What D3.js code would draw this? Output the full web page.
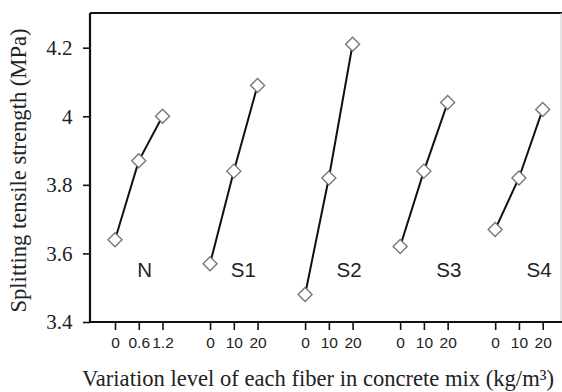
<!DOCTYPE html>
<html>
<head>
<meta charset="utf-8">
<script src="https://cdn.jsdelivr.net/npm/d3@7.9.0/dist/d3.min.js"></script>
<style>
  html, body { margin: 0; padding: 0; background: #fff; }
  svg { display: block; }
</style>
</head>
<body>
<svg id="chart" width="562" height="392"></svg>
<script>
const SERIF = '"Liberation Serif", "Times New Roman", serif';
const SANS = '"Liberation Sans", Arial, sans-serif';

// mixes and their fiber dosage levels
const groups = ["N", "S1", "S2", "S3", "S4"];
const levelLabels = [
  ["0", "0.6", "1.2"],
  ["0", "10", "20"],
  ["0", "10", "20"],
  ["0", "10", "20"],
  ["0", "10", "20"]
];
// splitting tensile strength (MPa) for each level
const strength = [
  [3.64, 3.87, 4.00],
  [3.57, 3.84, 4.09],
  [3.48, 3.82, 4.21],
  [3.62, 3.84, 4.04],
  [3.67, 3.82, 4.02]
];
const yTicks = [3.4, 3.6, 3.8, 4.0, 4.2];
// where each group name sits, in x-slot units
const groupLabelX = [1.25, 5.4, 9.85, 14.05, 17.85];
const groupLabelY = 3.53;

const svg = d3.select("#chart");
const plotLeft = 90, plotRight = 561, plotTop = 13, plotBottom = 322;

const slot = (g, j) => g * 4 + j;
const x = d3.scaleLinear().domain([0, 18]).range([115, 542.7]);
const y = d3.scaleLinear().domain([3.4, 4.3]).range([plotBottom, plotTop + 0.4]);

// frame: top border and faint right edge
svg.append("line")
  .attr("x1", plotLeft).attr("x2", 562).attr("y1", plotTop).attr("y2", plotTop)
  .attr("stroke", "#111").attr("stroke-width", 2);
svg.append("line")
  .attr("x1", plotRight).attr("x2", plotRight).attr("y1", plotTop).attr("y2", plotBottom)
  .attr("stroke", "#ccc").attr("stroke-width", 1);

// y axis
const yAxis = svg.append("g")
  .attr("transform", `translate(${plotLeft},0)`)
  .call(d3.axisLeft(y)
    .tickValues(yTicks)
    .tickSize(7)
    .tickPadding(10.5)
    .tickFormat(d => String(+d.toFixed(1))));
yAxis.select(".domain").attr("stroke", "#111").attr("stroke-width", 2.2)
  .attr("d", `M0,${plotTop}V${plotBottom}`);
yAxis.selectAll(".tick line").attr("stroke", "#111").attr("stroke-width", 1.6);
yAxis.selectAll(".tick text")
  .style("font-family", SERIF)
  .style("font-size", "21px")
  .attr("fill", "#222");

// x axis
const tickSlots = [], tickNames = {};
groups.forEach((g, gi) => {
  levelLabels[gi].forEach((lab, j) => {
    tickSlots.push(slot(gi, j));
    tickNames[slot(gi, j)] = lab;
  });
});
const xAxis = svg.append("g")
  .attr("transform", `translate(0,${plotBottom})`)
  .call(d3.axisBottom(x)
    .tickValues(tickSlots)
    .tickSize(8)
    .tickPadding(7)
    .tickFormat(d => tickNames[d]));
xAxis.select(".domain").attr("stroke", "#111").attr("stroke-width", 2.2)
  .attr("d", `M${plotLeft},0H562`);
xAxis.selectAll(".tick line").attr("stroke", "#111").attr("stroke-width", 1.6);
xAxis.selectAll(".tick text")
  .style("font-family", SANS)
  .style("font-size", "15.5px")
  .attr("fill", "#222");

// lines and diamond markers
const line = d3.line()
  .x(d => x(d.s))
  .y(d => y(d.v));
const diamond = "M0,-7L7,0L0,7L-7,0Z";

groups.forEach((g, gi) => {
  const pts = strength[gi].map((v, j) => ({ s: slot(gi, j), v }));
  svg.append("path")
    .datum(pts)
    .attr("d", line)
    .attr("fill", "none")
    .attr("stroke", "#111")
    .attr("stroke-width", 2);
  svg.selectAll(null)
    .data(pts)
    .enter()
    .append("path")
    .attr("d", diamond)
    .attr("transform", d => `translate(${x(d.s)},${y(d.v)})`)
    .attr("fill", "#fff")
    .attr("stroke", "#777")
    .attr("stroke-width", 1.4);
  svg.append("text")
    .attr("x", x(groupLabelX[gi]))
    .attr("y", y(groupLabelY))
    .attr("text-anchor", "middle")
    .style("font-family", SANS)
    .style("font-size", "20.5px")
    .attr("fill", "#222")
    .text(g);
});

// axis titles
svg.append("text")
  .attr("x", 318)
  .attr("y", 386)
  .attr("text-anchor", "middle")
  .attr("textLength", 472)
  .attr("lengthAdjust", "spacingAndGlyphs")
  .style("font-family", SERIF)
  .style("font-size", "22.5px")
  .attr("fill", "#222")
  .text("Variation level of each fiber in concrete mix (kg/m³)");

svg.append("text")
  .attr("transform", "translate(26,170.5) rotate(-90)")
  .attr("text-anchor", "middle")
  .attr("textLength", 284)
  .attr("lengthAdjust", "spacingAndGlyphs")
  .style("font-family", SERIF)
  .style("font-size", "22.5px")
  .attr("fill", "#222")
  .text("Splitting tensile strength (MPa)");
</script>
</body>
</html>
